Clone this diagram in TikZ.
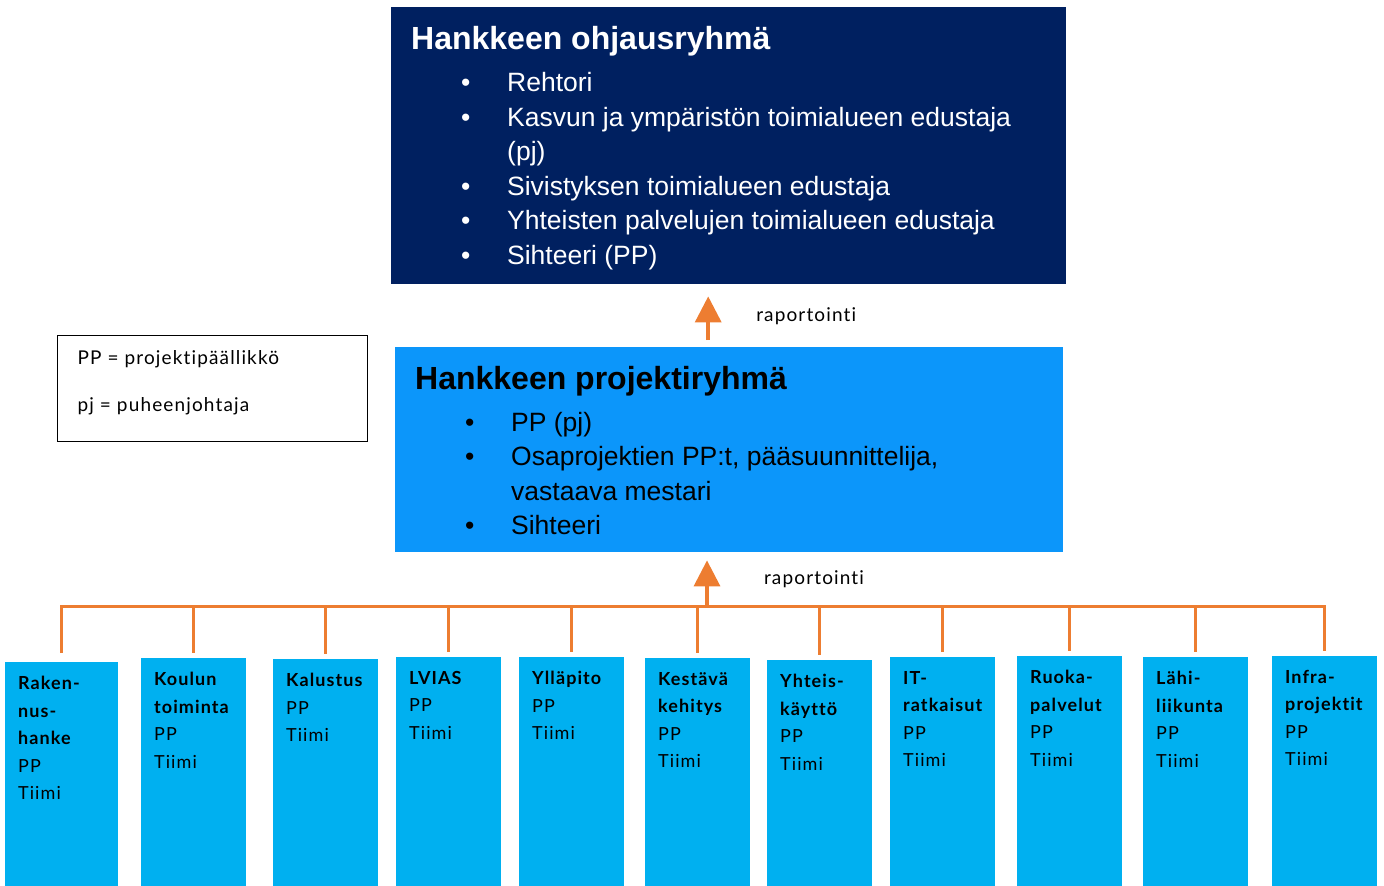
\documentclass[tikz,border=0pt]{standalone}
\usepackage{fontspec}
\setmainfont{Lato}[LetterSpace=6, Ligatures=NoCommon]
\newfontfamily\arialfont{Liberation Sans}
\usetikzlibrary{positioning,arrows.meta,calc}

\definecolor{ohjausblue}{RGB}{0,32,96}
\definecolor{projblue}{RGB}{12,150,250}
\definecolor{osablue}{RGB}{0,176,240}
\definecolor{raporange}{RGB}{237,125,49}

\tikzstyle{ryhma}=[rectangle, inner xsep=20pt, anchor=north west, font=\arialfont]
\tikzstyle{osa}=[rectangle, fill=osablue, inner xsep=13pt, inner ysep=14pt, minimum width=105pt, anchor=north west, font=\fontsize{18}{27.5}\selectfont]
\tikzstyle{raport}=[draw=raporange, line width=3.5pt, -{Triangle[width=26pt,length=26pt]}]
\tikzstyle{bus}=[draw=raporange, line width=3pt]

\newcommand{\kohta}[1]{\hspace*{50pt}\makebox[46pt][l]{\textbullet}#1}
\newcommand{\osatxt}[2][79pt]{\parbox[c][220pt][t]{#1}{\textbf{#2}\\PP\\Tiimi}}

\begin{document}
\begin{tikzpicture}[x=1pt,y=-1pt]
	\useasboundingbox (0,0) rectangle (1384,886);
	% ohjausryhma ja projektiryhma
	\node[ryhma, fill=ohjausblue, text=white, inner ysep=19pt] (ohj) at (391,7) {\parbox[c][239pt][t]{635pt}{%
		\fontsize{32}{38}\selectfont\bfseries Hankkeen ohjausryhmä\par
		\fontsize{26.5}{34.5}\selectfont\mdseries\vspace{8pt}
		\kohta{Rehtori}\par
		\kohta{Kasvun ja ympäristön toimialueen edustaja}\par
		\hspace*{96pt}(pj)\par
		\kohta{Sivistyksen toimialueen edustaja}\par
		\kohta{Yhteisten palvelujen toimialueen edustaja}\par
		\kohta{Sihteeri (PP)}}};
	\node[ryhma, fill=projblue, text=black, inner ysep=19pt] (proj) at (395,347) {\parbox[c][167pt][t]{628pt}{%
		\fontsize{32}{38}\selectfont\bfseries Hankkeen projektiryhmä\par
		\fontsize{26.5}{34.5}\selectfont\mdseries\vspace{7.5pt}
		\kohta{PP (pj)}\par
		\kohta{Osaprojektien PP:t, pääsuunnittelija,}\par
		\hspace*{96pt}vastaava mestari\par
		\kohta{Sihteeri}}};
	\node[draw=black, line width=1.2pt, anchor=north west, inner xsep=20pt, inner ysep=15pt] (selite) at (57,335) {\parbox[c][76pt][t]{270pt}{%
		\fontsize{19}{47}\selectfont PP = projektipäällikkö\par pj = puheenjohtaja}};
	% osaprojektit
	\node[osa, minimum width=113pt] (o1) at (5,662) {\osatxt[87pt]{Raken-\\nus-\\hanke}};
	\node[osa] (o2) at (141,658) {\osatxt{Koulun\\toiminta}};
	\node[osa] (o3) at (273,659) {\osatxt{Kalustus}};
	\node[osa] (o4) at (396,657) {\osatxt{LVIAS}};
	\node[osa] (o5) at (519,657) {\osatxt{Ylläpito}};
	\node[osa] (o6) at (645,658) {\osatxt{Kestävä\\kehitys}};
	\node[osa] (o7) at (767,660) {\osatxt{Yhteis-\\käyttö}};
	\node[osa] (o8) at (890,657) {\osatxt{IT-\\ratkaisut}};
	\node[osa] (o9) at (1017,656) {\osatxt{Ruoka-\\palvelut}};
	\node[osa] (o10) at (1143,657) {\osatxt{Lähi-\\liikunta}};
	\node[osa] (o11) at (1272,656) {\osatxt{Infra-\\projektit}};
	% raportointi
	\coordinate (bus) at (707,606);
	\draw[bus, shorten <=9pt, shorten >=5pt] (o1.north) -- (o1.north |- bus) -- (o11.north |- bus) -- (o11.north);
	\foreach \i in {2,...,10}
		\draw[bus, shorten >=5pt] (o\i.north |- bus) -- (o\i.north);
	\draw[raport, shorten >=8pt] (bus) -- (bus |- proj.south)
		node[midway, right=52pt, text=black, font=\fontsize{19}{22}\selectfont] {raportointi};
	\draw[raport, shorten <=7pt, shorten >=12pt] ([xshift=-21pt]proj.north) -- ([xshift=-21pt]proj.north |- ohj.south)
		node[midway, right=43pt, text=black, font=\fontsize{19}{22}\selectfont] {raportointi};
\end{tikzpicture}
\end{document}
